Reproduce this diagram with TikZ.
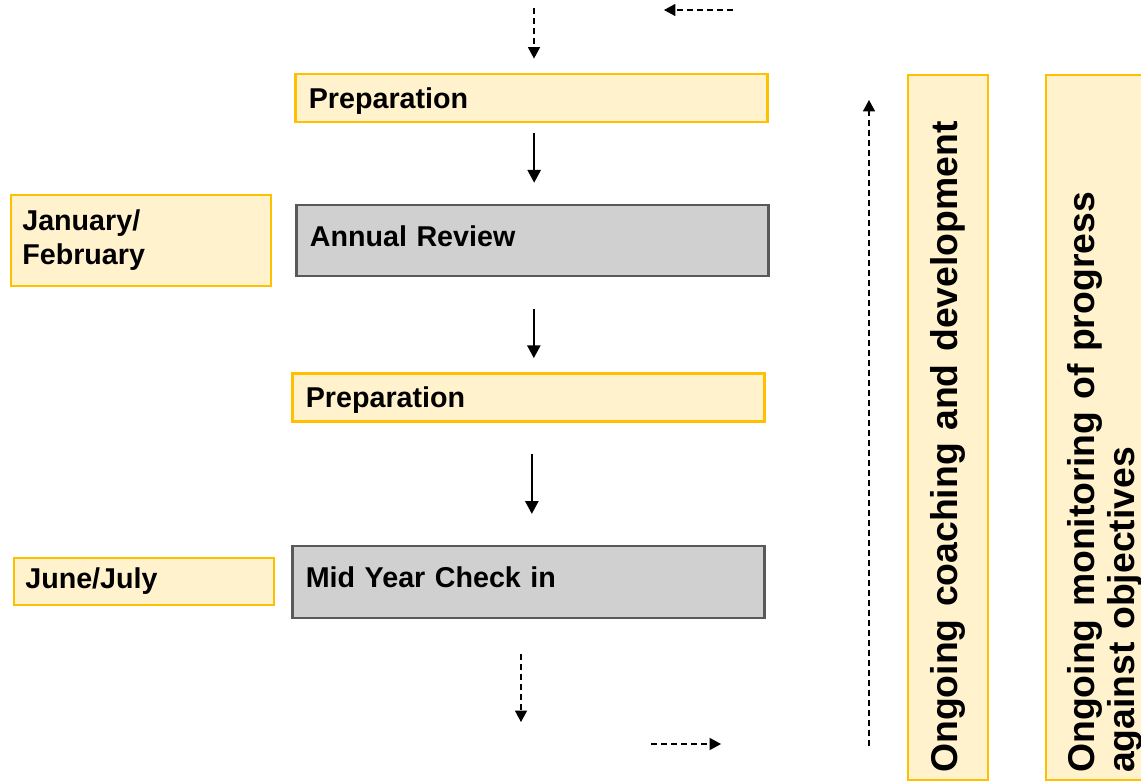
\documentclass[tikz,border=0pt]{standalone}
\usepackage{fontspec}
\setmainfont{Liberation Sans}
\usetikzlibrary{arrows.meta}
\definecolor{cream}{HTML}{FFF2CC}
\definecolor{amber}{HTML}{FFC000}
\definecolor{boxgrey}{HTML}{D0D0D0}
\definecolor{edgegrey}{HTML}{595959}
\begin{document}
\begin{tikzpicture}[x=0.75pt, y=-0.75pt,
  every node/.style={font=\bfseries\fontsize{21.5}{25.5}\selectfont, inner ysep=0pt},
  prep/.style={draw=amber, line width=2.2pt, fill=cream, minimum height=36pt,
    inner xsep=10pt, text width=334pt, text depth=0pt, align=left},
  stage/.style={draw=edgegrey, line width=1.8pt, fill=boxgrey, minimum height=53.5pt,
    inner xsep=10pt, text width=334pt, text depth=7pt, align=left},
  month/.style={draw=amber, line width=1.1pt, fill=cream,
    inner xsep=8.5pt, text width=178pt, align=left},
  ongoing/.style={draw=amber, line width=1.5pt, fill=cream, rotate=90,
    minimum width=528.75pt, text width=518pt, inner xsep=5pt, align=left,
    font=\bfseries\fontsize{28}{30}\selectfont},
  flow/.style={-{Triangle[width=10pt, length=9.5pt]}, line width=1.1pt},
  loopflow/.style={-{Triangle[width=9pt, length=8.5pt]}, line width=0.9pt,
    dash pattern=on 4.5pt off 3pt}]
  \useasboundingbox (0,0) rectangle (1141,782);

  \node[prep] (p1) at (531.5,98) {Preparation};
  \node[stage] (ar) at (532.5,240.5) {Annual Review};
  \node[prep] (p2) at (528.5,397.5) {Preparation};
  \node[stage, minimum height=54pt] (mid) at (528.5,582) {Mid Year Check in};

  \node[month, minimum height=68.25pt] (jan) at (141,240.5) {January/\\February};
  \node[month, minimum height=35.25pt] (jun) at (144,581.5) {June/July};

  \node[ongoing, minimum height=60pt] (coach) at (948,427.5) {Ongoing coaching and development};
  \node[ongoing, minimum height=88.5pt] (watch) at (1105,427.5)
    {Ongoing monitoring of progress\\against objectives};

  \draw[flow, shorten <=7.5pt, shorten >=15.75pt]
    ([xshift=2pt]p1.south) -- ([xshift=2pt]p1.south |- ar.north);
  \draw[flow, shorten <=24pt, shorten >=10.5pt]
    ([xshift=1pt]ar.south) -- ([xshift=1pt]ar.south |- p2.north);
  \draw[flow, shorten <=23.25pt, shorten >=23.25pt]
    ([xshift=2.5pt]p2.south) -- ([xshift=2.5pt]p2.south |- mid.north);

  % cycle continues from the previous year and on to the next
  \coordinate (in) at (534,8);
  \coordinate (backA) at (733,10);
  \coordinate (backB) at (664,10);
  \coordinate (out) at (521,722);
  \coordinate (onA) at (651,744);
  \coordinate (onB) at (721,744);
  \coordinate (upA) at (869,746);
  \coordinate (upB) at (869,100);
  \draw[loopflow, shorten >=10.5pt] (in) -- (in |- p1.north);
  \draw[loopflow] (backA) -- (backB);
  \draw[loopflow, shorten <=26.25pt] (mid.south -| out) -- (out);
  \draw[loopflow] (onA) -- (onB);
  \draw[loopflow] (upA) -- (upB);
\end{tikzpicture}
\end{document}
